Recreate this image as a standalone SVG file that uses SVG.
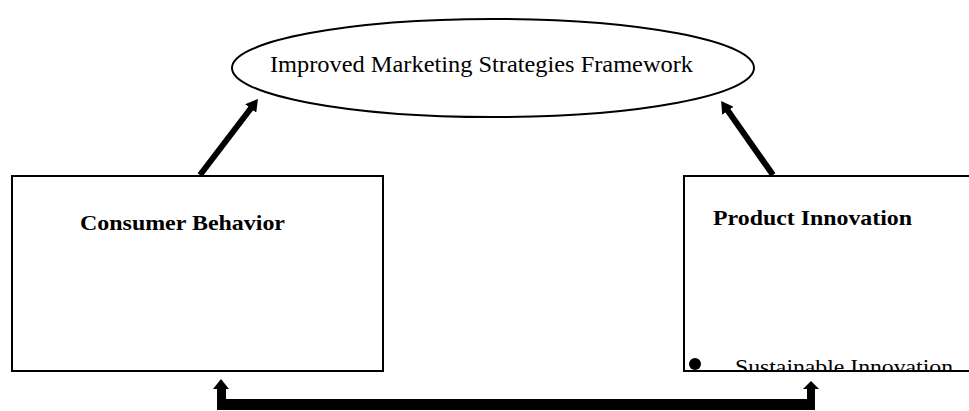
<svg xmlns="http://www.w3.org/2000/svg" width="969" height="411" viewBox="0 0 969 411">
  <style>
    .box { fill: #ffffff; stroke: #000000; stroke-width: 2; }
    .title { font-family: "Liberation Serif", "Times New Roman", serif; font-size: 24px; fill: #000000; }
    .head { font-family: "Liberation Serif", "Times New Roman", serif; font-size: 22px; font-weight: bold; fill: #000000; }
    .item { font-family: "Liberation Serif", "Times New Roman", serif; font-size: 22px; fill: #000000; }
    .link { stroke: #000000; stroke-width: 6; fill: none; marker-end: url(#tip); }
  </style>
  <defs>
    <marker id="tip" markerUnits="userSpaceOnUse" viewBox="0 0 12 14" refX="1" refY="7" markerWidth="12" markerHeight="14" orient="auto">
      <path d="M0,0 L12,7 L0,14 z" fill="#000000"/>
    </marker>
    <clipPath id="insidePI">
      <rect x="684" y="176" width="300" height="195"/>
    </clipPath>
  </defs>

  <rect width="969" height="411" fill="#ffffff"/>

  <g id="framework">
    <ellipse cx="493" cy="68" rx="261" ry="49" class="box"/>
    <text x="270" y="72" class="title" textLength="423" lengthAdjust="spacingAndGlyphs">Improved Marketing Strategies Framework</text>
  </g>

  <g id="consumer-behavior">
    <rect x="12" y="176" width="371" height="195" class="box"/>
    <text x="80" y="230" class="head" textLength="205" lengthAdjust="spacingAndGlyphs">Consumer Behavior</text>
  </g>

  <g id="product-innovation">
    <rect x="684" y="176" width="300" height="195" class="box"/>
    <text x="713" y="225" class="head" textLength="199" lengthAdjust="spacingAndGlyphs">Product Innovation</text>
    <g clip-path="url(#insidePI)">
      <circle cx="695" cy="364" r="6" fill="#000000"/>
      <text x="735" y="374" class="item" textLength="218" lengthAdjust="spacingAndGlyphs">Sustainable Innovation</text>
    </g>
    <line x1="684" y1="371" x2="969" y2="371" stroke="#000000" stroke-width="2"/>
  </g>

  <g id="connectors">
    <line x1="200" y1="175" x2="251.3" y2="107.7" class="link"/>
    <line x1="773" y1="175" x2="727.4" y2="110" class="link"/>
    <path d="M221,379 L229,389 L226,389 L226,399 L807,399 L807,389 L803,389 L811,381 L819,389 L815,389 L815,410 L217,410 L217,389 L213,389 Z" fill="#000000"/>
  </g>
</svg>
